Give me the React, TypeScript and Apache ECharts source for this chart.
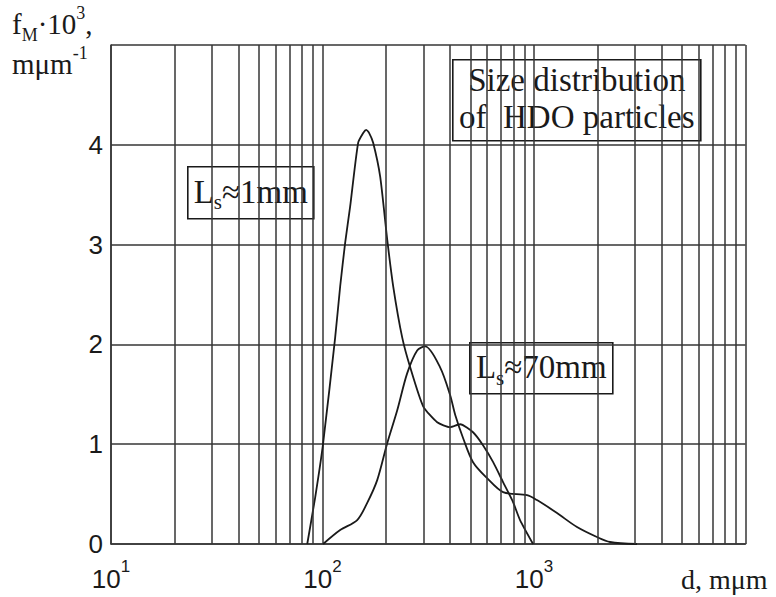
import React, { useEffect, useRef } from "react";
import * as echarts from "echarts";

// Particle diameter d (mμm) and mass distribution f_M·10^3 (mμm^-1)
const dShort = [84.7, 92.4, 100.7, 114.8, 121.2, 128, 135.1, 147.4, 156, 160.9, 166, 173.6, 187.4, 202.3, 216, 238.1, 259.8, 299.2, 348.5, 401, 447.6, 515, 574, 641, 714, 796, 859, 990];
const fShort = [0, 0.47, 1.01, 2.07, 2.58, 3.02, 3.38, 4.02, 4.12, 4.15, 4.12, 4.02, 3.68, 3.05, 2.58, 2.07, 1.77, 1.38, 1.22, 1.17, 1.2, 1.12, 0.99, 0.82, 0.62, 0.42, 0.24, 0];

const dLong = [100.7, 121.2, 145.9, 162.5, 181.4, 202.3, 225.6, 251.3, 280.3, 305.8, 359.8, 401.4, 424.6, 462.4, 515, 600, 714, 927, 1033, 1285, 1597, 1984, 2287, 3069];
const fLong = [0, 0.14, 0.24, 0.41, 0.64, 1.01, 1.34, 1.71, 1.94, 1.98, 1.77, 1.49, 1.29, 1.06, 0.82, 0.66, 0.52, 0.49, 0.44, 0.31, 0.17, 0.07, 0.02, 0];

// Log-axis grid: labelled decades and the 2..9 lines inside each decade
const decades = [10, 100, 1000];
const decadeExponents = ["1", "2", "3"];
const minorMultipliers = [2, 3, 4, 5, 6, 7, 8, 9];
const yTicks = [0, 1, 2, 3, 4];

const INK = "#1a1a1a";
const GRID = "#363636";
const SERIF = "'Liberation Serif', 'Times New Roman', serif";
const SANS = "'Liberation Sans', Arial, sans-serif";

export default function App() {
  const ref = useRef<HTMLDivElement>(null);

  useEffect(() => {
    if (!ref.current) return;
    const chart = echarts.init(ref.current, null, { renderer: "svg" });

    const minorLines = decades.flatMap((b) => minorMultipliers.map((m) => ({ xAxis: b * m })));

    chart.setOption({
      animation: false,
      backgroundColor: "#ffffff",
      grid: { left: 111, right: 30.5, top: 45, bottom: 53 },
      xAxis: {
        type: "log",
        logBase: 10,
        min: 10,
        max: 10000,
        axisLine: { show: true, lineStyle: { color: GRID, width: 1.5 } },
        axisTick: { show: false },
        splitLine: { show: true, lineStyle: { color: GRID, width: 1.5 } },
        axisLabel: {
          margin: 14,
          formatter: (v: number) => {
            const i = decades.indexOf(Math.round(v));
            return i < 0 ? "" : `{b|10}{s|${decadeExponents[i]}}`;
          },
          rich: {
            b: { fontFamily: SANS, fontSize: 26, color: INK, lineHeight: 34, verticalAlign: "bottom" },
            s: { fontFamily: SANS, fontSize: 17, color: INK, lineHeight: 34, verticalAlign: "top" },
          },
        },
      },
      yAxis: {
        type: "value",
        min: 0,
        max: 5,
        interval: 1,
        axisLine: { show: true, lineStyle: { color: GRID, width: 1.5 } },
        axisTick: { show: false },
        splitLine: { show: true, lineStyle: { color: GRID, width: 1.5 } },
        axisLabel: {
          margin: 8,
          fontFamily: SANS,
          fontSize: 26,
          color: INK,
          formatter: (v: number) => (yTicks.includes(v) ? String(v) : ""),
        },
      },
      series: [
        {
          name: "Ls≈1mm",
          type: "line",
          smooth: 0.2,
          symbol: "none",
          lineStyle: { color: INK, width: 1.8 },
          data: dShort.map((d, i) => [d, fShort[i]]),
          markLine: {
            silent: true,
            symbol: "none",
            label: { show: false },
            lineStyle: { color: GRID, width: 1.5, type: "solid" },
            data: minorLines,
          },
          z: 3,
        },
        {
          name: "Ls≈70mm",
          type: "line",
          smooth: 0.3,
          symbol: "none",
          lineStyle: { color: INK, width: 1.8 },
          data: dLong.map((d, i) => [d, fLong[i]]),
          z: 3,
        },
      ],
      graphic: [
        {
          type: "text",
          left: 12,
          top: 4,
          style: {
            text: "{a|f}{sub|M}{a|·10}{sup|3}{a|,}\n{a|mμm}{sup|-1}",
            rich: {
              a: { fontFamily: SERIF, fontSize: 29, fill: INK, lineHeight: 40, verticalAlign: "middle" },
              sub: { fontFamily: SERIF, fontSize: 18, fill: INK, lineHeight: 40, verticalAlign: "bottom" },
              sup: { fontFamily: SERIF, fontSize: 18, fill: INK, lineHeight: 40, verticalAlign: "top" },
            },
          },
        },
        {
          type: "text",
          left: 681,
          top: 565,
          style: { text: "d, mμm", fontFamily: SERIF, fontSize: 28, fill: INK },
        },
        {
          type: "group",
          left: 452,
          top: 59,
          children: [
            { type: "rect", shape: { x: 0, y: 0, width: 248, height: 81 }, style: { fill: "#fff", stroke: INK, lineWidth: 1.6 } },
            {
              type: "text",
              x: 124,
              y: 39,
              style: {
                text: "Size distribution\nof  HDO particles",
                fontFamily: SERIF,
                fontSize: 33,
                lineHeight: 37,
                fill: INK,
                align: "center",
                verticalAlign: "middle",
              },
            },
          ],
          z: 10,
        },
        {
          type: "group",
          left: 187,
          top: 166,
          children: [
            { type: "rect", shape: { x: 0, y: 0, width: 126, height: 52 }, style: { fill: "#fff", stroke: INK, lineWidth: 1.6 } },
            {
              type: "text",
              x: 63,
              y: 25,
              style: {
                text: "{a|L}{s|s}{a|≈1mm}",
                align: "center",
                verticalAlign: "middle",
                rich: {
                  a: { fontFamily: SERIF, fontSize: 33, fill: INK, lineHeight: 42, verticalAlign: "middle" },
                  s: { fontFamily: SERIF, fontSize: 21, fill: INK, lineHeight: 42, verticalAlign: "bottom" },
                },
              },
            },
          ],
          z: 10,
        },
        {
          type: "group",
          left: 469,
          top: 342,
          children: [
            { type: "rect", shape: { x: 0, y: 0, width: 143, height: 51 }, style: { fill: "#fff", stroke: INK, lineWidth: 1.6 } },
            {
              type: "text",
              x: 71.5,
              y: 24.5,
              style: {
                text: "{a|L}{s|s}{a|≈70mm}",
                align: "center",
                verticalAlign: "middle",
                rich: {
                  a: { fontFamily: SERIF, fontSize: 33, fill: INK, lineHeight: 42, verticalAlign: "middle" },
                  s: { fontFamily: SERIF, fontSize: 21, fill: INK, lineHeight: 42, verticalAlign: "bottom" },
                },
              },
            },
          ],
          z: 10,
        },
      ],
    });

    return () => chart.dispose();
  }, []);

  return (
    <div
      ref={ref}
      style={{ position: "fixed", left: 0, top: 0, width: 776, height: 597, background: "#fff" }}
    />
  );
}
